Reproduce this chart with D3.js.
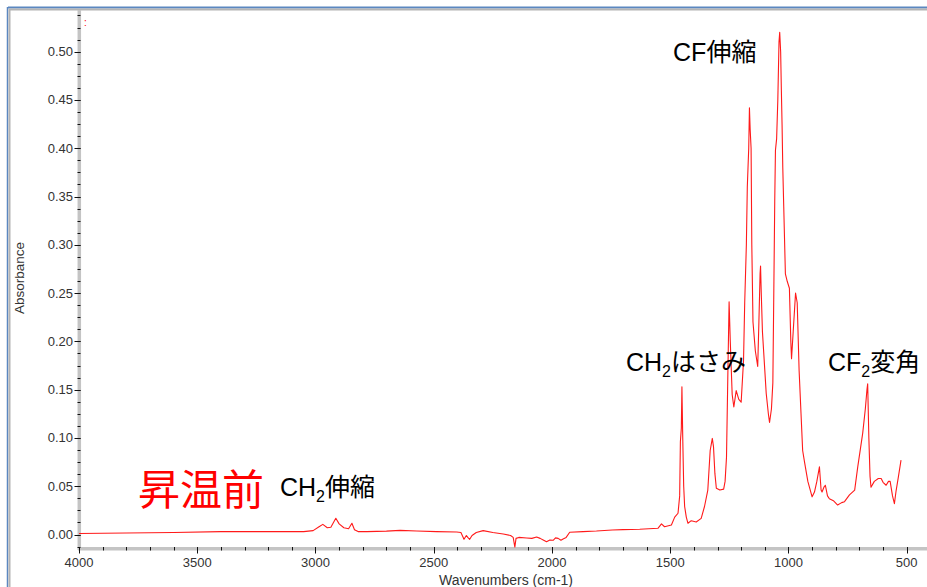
<!DOCTYPE html>
<html>
<head>
<meta charset="utf-8">
<script src="https://cdn.jsdelivr.net/npm/d3@7"></script>
<style>
  html, body { margin: 0; padding: 0; background: #fff; }
  svg { display: block; font-family: "Liberation Sans", Arial, "Noto Sans CJK JP", sans-serif; }
</style>
</head>
<body>
<svg id="viz" width="927" height="587"></svg>
<script>
const width = 927;
const height = 587;
const svg = d3.select("#viz");

// スペクトル (波数 cm-1, 吸光度) — 図から読み取った値
const wavenumbers = [
  4000, 3800, 3600, 3400, 3200, 3050, 3010, 2985, 2969, 2950, 2935, 2914, 2900, 2880, 2860, 2846, 2835, 2820,
  2783, 2700, 2642, 2572, 2488, 2403, 2385, 2372, 2362, 2356, 2348, 2338, 2320, 2291, 2250, 2206, 2175, 2164,
  2157, 2152, 2140, 2107, 2085, 2065, 2050, 2037, 2023, 2009, 1995, 1985, 1974, 1962, 1953, 1940, 1925, 1869,
  1812, 1745, 1700, 1629, 1552, 1537, 1524, 1495, 1481, 1467, 1460, 1457, 1453, 1450.5, 1447, 1443, 1439, 1432,
  1425, 1411, 1390, 1369, 1355, 1341, 1331, 1322, 1317, 1311, 1305, 1290, 1274, 1268, 1262, 1256, 1251, 1246,
  1238, 1231, 1221, 1210, 1200, 1190, 1185, 1178, 1174, 1171, 1168, 1165, 1162, 1158, 1155, 1150, 1140, 1130,
  1125, 1120, 1118, 1115, 1110, 1100, 1094, 1085, 1080, 1072, 1066, 1062, 1058, 1055, 1050, 1045, 1040, 1037,
  1033, 1030, 1027, 1024, 1020, 1013, 1005, 996, 990, 987, 980, 970, 963, 955, 940, 932, 918, 900, 890, 880,
  869, 862, 858, 850, 844, 835, 827, 810, 792, 775, 763, 742, 720, 707, 695, 686, 675, 668, 665, 660, 655, 651,
  637, 620, 608, 600, 587, 577, 570, 560, 552, 545, 535, 524
];
const absorbance = [
  0.001, 0.0015, 0.002, 0.003, 0.003, 0.003, 0.004, 0.008, 0.0105, 0.007, 0.0075, 0.0168, 0.011, 0.007, 0.006, 0.0116, 0.005, 0.003,
  0.003, 0.0035, 0.0043, 0.0036, 0.003, 0.0026, 0.002, -0.005, -0.001, -0.003, -0.005, -0.001, 0.002, 0.004, 0.002, 0.0005, -0.001, -0.003,
  -0.013, -0.004, -0.003, -0.0036, -0.004, -0.0026, -0.004, -0.0057, -0.0075, -0.0057, -0.006, -0.0035, -0.004, -0.006, -0.0047, -0.003, 0.0023, 0.003,
  0.0036, 0.0047, 0.005, 0.0054, 0.0064, 0.011, 0.008, 0.0098, 0.018, 0.022, 0.04, 0.096, 0.11, 0.153, 0.10, 0.05, 0.029, 0.018,
  0.0116, 0.0143, 0.013, 0.0167, 0.029, 0.046, 0.087, 0.0995, 0.091, 0.063, 0.048, 0.046, 0.047, 0.055, 0.08, 0.17, 0.241, 0.20,
  0.145, 0.132, 0.149, 0.14, 0.137, 0.18, 0.24, 0.30, 0.36, 0.38, 0.40, 0.442, 0.42, 0.40, 0.30, 0.22, 0.19, 0.174,
  0.22, 0.27, 0.278, 0.25, 0.21, 0.17, 0.146, 0.125, 0.116, 0.13, 0.157, 0.25, 0.345, 0.398, 0.41, 0.45, 0.51, 0.52,
  0.50, 0.46, 0.424, 0.38, 0.34, 0.27, 0.262, 0.255, 0.20, 0.182, 0.21, 0.25, 0.24, 0.17, 0.087, 0.075, 0.055, 0.039, 0.044, 0.055,
  0.070, 0.046, 0.044, 0.049, 0.051, 0.040, 0.037, 0.035, 0.0305, 0.033, 0.034, 0.041, 0.046, 0.07, 0.09, 0.105, 0.13, 0.15, 0.156, 0.10, 0.06, 0.049,
  0.055, 0.058, 0.058, 0.054, 0.051, 0.055, 0.055, 0.04, 0.032, 0.045, 0.06, 0.077
];
const spectrum = wavenumbers.map((w, i) => ({ w, a: absorbance[i] }));

const yTicks = [0.00, 0.05, 0.10, 0.15, 0.20, 0.25, 0.30, 0.35, 0.40, 0.45, 0.50];
const xTicks = [4000, 3500, 3000, 2500, 2000, 1500, 1000, 500];

// 注釈ラベル (左端の波数, ベースラインの吸光度)
const annotations = [
  { main: "CF", sub: "", rest: "伸縮", w: 1488, a: 0.490 },
  { main: "CH", sub: "2", rest: "はさみ", w: 1687, a: 0.169 },
  { main: "CF", sub: "2", rest: "変角", w: 833, a: 0.169 },
  { main: "CH", sub: "2", rest: "伸縮", w: 3150, a: 0.040 }
];

// スケール
const x = d3.scaleLinear().domain([4000, 500]).range([79, 906.7]);
const y = d3.scaleLinear().domain([0, 0.5]).range([534.5, 51.7]);
const xRight = x.invert(width + 2);
const yTop = y.invert(10);
const yBottom = y.invert(548.7);

// ウィンドウ枠
svg.append("line").attr("x1", 8).attr("x2", width).attr("y1", 7.5).attr("y2", 7.5)
  .attr("stroke", "#5b87c0").attr("stroke-width", 2);
svg.append("line").attr("x1", 9).attr("x2", width).attr("y1", 9.5).attr("y2", 9.5)
  .attr("stroke", "#b4b4b4").attr("stroke-width", 2);
svg.append("line").attr("x1", 7.5).attr("x2", 7.5).attr("y1", 7).attr("y2", height)
  .attr("stroke", "#5b87c0").attr("stroke-width", 1.5);
svg.append("line").attr("x1", 9.5).attr("x2", 9.5).attr("y1", 9).attr("y2", height)
  .attr("stroke", "#b4b4b4").attr("stroke-width", 2);

// 軸 (灰色の帯 + 黒い目盛)
const axisG = svg.append("g");
axisG.append("line").attr("x1", 79.3).attr("x2", 79.3).attr("y1", 10).attr("y2", 550)
  .attr("stroke", "#c4c4c4").attr("stroke-width", 3.5);
axisG.append("line").attr("x1", 78).attr("x2", width).attr("y1", 548.7).attr("y2", 548.7)
  .attr("stroke", "#c4c4c4").attr("stroke-width", 3.5);

const yMinor = d3.range(-0.0125, yTop, 0.0125).filter(v => v > yBottom);
axisG.selectAll(".ymin").data(yMinor).enter().append("line")
  .attr("x1", 77.5).attr("x2", 80.5)
  .attr("y1", d => Math.round(y(d)) + 0.5).attr("y2", d => Math.round(y(d)) + 0.5)
  .attr("stroke", "#111").attr("stroke-width", 1);
axisG.selectAll(".ymaj").data(yTicks).enter().append("line")
  .attr("x1", 74.5).attr("x2", 80.5)
  .attr("y1", d => Math.round(y(d)) + 0.5).attr("y2", d => Math.round(y(d)) + 0.5)
  .attr("stroke", "#111").attr("stroke-width", 1);
axisG.selectAll(".ylab").data(yTicks).enter().append("text")
  .attr("x", 73).attr("y", d => y(d) + 4.5)
  .attr("text-anchor", "end").attr("font-size", 13).attr("fill", "#333")
  .text(d => d.toFixed(2));

const xMinor = d3.range(4000, xRight, -100);
axisG.selectAll(".xmin").data(xMinor).enter().append("line")
  .attr("x1", d => Math.round(x(d)) + 0.5).attr("x2", d => Math.round(x(d)) + 0.5)
  .attr("y1", 547).attr("y2", 550.5)
  .attr("stroke", "#111").attr("stroke-width", 1);
axisG.selectAll(".xmaj").data(xTicks).enter().append("line")
  .attr("x1", d => Math.round(x(d)) + 0.5).attr("x2", d => Math.round(x(d)) + 0.5)
  .attr("y1", 547).attr("y2", 553.5)
  .attr("stroke", "#111").attr("stroke-width", 1);
axisG.selectAll(".xlab").data(xTicks).enter().append("text")
  .attr("x", d => x(d)).attr("y", 567)
  .attr("text-anchor", "middle").attr("font-size", 13).attr("fill", "#333")
  .text(d => d);

// 軸タイトル
svg.append("text").attr("transform", "translate(24,278) rotate(-90)")
  .attr("text-anchor", "middle").attr("font-size", 13.5).attr("fill", "#333")
  .text("Absorbance");
svg.append("text").attr("x", 506).attr("y", 585)
  .attr("text-anchor", "middle").attr("font-size", 14).attr("fill", "#333")
  .text("Wavenumbers (cm-1)");

// スペクトル線
const line = d3.line().x(d => x(d.w)).y(d => y(d.a));
svg.append("path").datum(spectrum)
  .attr("d", line)
  .attr("fill", "none")
  .attr("stroke", "#ff1a1a")
  .attr("stroke-width", 1.1)
  .attr("stroke-linejoin", "round");

// 左上の小さな赤い記号
svg.append("text").attr("x", 84).attr("y", 26).attr("font-size", 10).attr("fill", "#ff0000").text(":");

// 注釈
annotations.forEach(d => {
  const t = svg.append("text").attr("x", x(d.w)).attr("y", y(d.a))
    .attr("font-size", 25).attr("fill", "#000");
  t.append("tspan").text(d.main);
  if (d.sub) {
    t.append("tspan").attr("font-size", 16).attr("dy", 6).text(d.sub);
    t.append("tspan").attr("dy", -6).text(d.rest);
  } else {
    t.append("tspan").text(d.rest);
  }
});

svg.append("text").attr("x", 138).attr("y", 505)
  .attr("font-size", 42).attr("fill", "#ff0000")
  .text("昇温前");
</script>
</body>
</html>
